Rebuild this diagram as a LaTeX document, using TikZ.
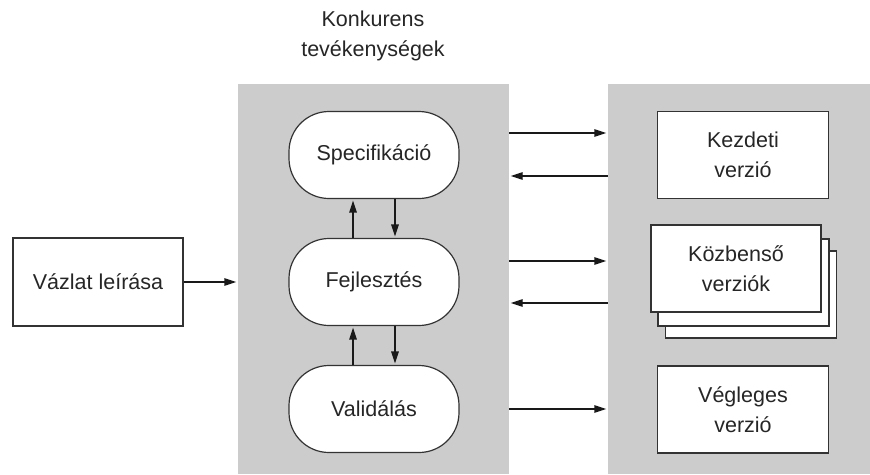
\documentclass[tikz,border=0pt]{standalone}
\usepackage{fontspec}
\setmainfont{Liberation Sans}
\usetikzlibrary{arrows.meta}
\begin{document}
\begin{tikzpicture}[x=1pt,y=-1pt,
  every node/.style={font=\fontsize{21.5}{30}\selectfont, text=black!85},
  panel/.style={fill=black!20, draw=none, inner sep=0, minimum width=#1, minimum height=390},
  activity/.style={draw=black!80, line width=1.2pt, fill=white, rounded corners=40pt,
    minimum width=170, minimum height=87, inner sep=0},
  docbox/.style={draw=black!80, line width=1.3pt, fill=white,
    minimum width=171, minimum height=87, inner sep=0, align=center},
  arr/.style={line width=1.4pt, draw=black!90, shorten >=1.5pt,
    -{Triangle[length=12pt,width=7.5pt]}}]
\useasboundingbox (0,0) rectangle (870,474);
% panels
\node[panel=271] (lp) at (373.5,279) {};
\node[panel=262] (rp) at (739,279) {};
% title
\node[align=center] (title) at (373,36) {Konkurens\\tevékenységek};
% activities
\node[activity] (spec) at (374,155) {Specifikáció};
\node[activity] (fej) at (374,282) {Fejlesztés};
\node[activity] (val) at (374,409) {Validálás};
% outline
\node[docbox, minimum width=170, minimum height=88] (vaz) at (98,282) {Vázlat leírása};
% versions
\node[docbox] (kez) at (743,155) {Kezdeti\\verzió};
\node[docbox] (kozb3) at (751,294.5) {};
\node[docbox] (kozb2) at (743.5,282.5) {};
\node[docbox, minimum width=170] (kozb) at (736,268.5) {Közbenső\\verziók};
\node[docbox] (veg) at (743,409.5) {Végleges\\verzió};
% vertical arrows
\draw[arr] ([xshift=-21pt]fej.north) -- ([xshift=-21pt]spec.south);
\draw[arr] ([xshift=21pt]spec.south) -- ([xshift=21pt]fej.north);
\draw[arr] ([xshift=-21pt]val.north) -- ([xshift=-21pt]fej.south);
\draw[arr] ([xshift=21pt]fej.south) -- ([xshift=21pt]val.north);
% input arrow
\draw[arr] (vaz.east) -- (vaz.east -| lp.west);
% horizontal arrows between panels
\draw[arr] ([yshift=22pt]spec.center -| lp.east) -- ([yshift=22pt]spec.center -| rp.west);
\draw[arr] ([yshift=-21pt]spec.center -| rp.west) -- ([yshift=-21pt]spec.center -| lp.east);
\draw[arr] ([yshift=21pt]fej.center -| lp.east) -- ([yshift=21pt]fej.center -| rp.west);
\draw[arr] ([yshift=-21pt]fej.center -| rp.west) -- ([yshift=-21pt]fej.center -| lp.east);
\draw[arr] (val.center -| lp.east) -- (val.center -| rp.west);
\end{tikzpicture}
\end{document}
